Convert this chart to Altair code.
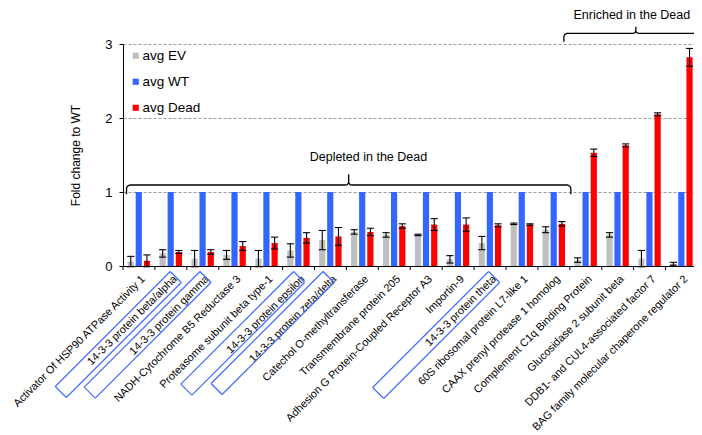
import altair as alt
import pandas as pd
import numpy as np

# ---------------- data ----------------
categories = [
    "Activator Of HSP90 ATPase Activity 1",
    "14-3-3 protein beta/alpha",
    "14-3-3 protein gamma",
    "NADH-Cytochrome B5 Reductase 3",
    "Proteasome subunit beta type-1",
    "14-3-3 protein epsilon",
    "14-3-3 protein zeta/delta",
    "Catechol O-methyltransferase",
    "Transmembrane protein 205",
    "Adhesion G Protein-Coupled Receptor A3",
    "Importin-9",
    "14-3-3 protein theta",
    "60S ribosomal protein L7-like 1",
    "CAAX prenyl protease 1 homolog",
    "Complement C1q Binding Protein",
    "Glucosidase 2 subunit beta",
    "DDB1- and CUL4-associated factor 7",
    "BAG family molecular chaperone regulator 2",
]
avg_ev = [0.06, 0.17, 0.10, 0.15, 0.10, 0.21, 0.35, 0.46, 0.42, 0.42,
          0.09, 0.31, 0.57, 0.49, 0.08, 0.42, 0.10, 0.03]
err_ev = [0.07, 0.05, 0.11, 0.06, 0.11, 0.09, 0.13, 0.03, 0.03, 0.01,
          0.05, 0.09, 0.01, 0.04, 0.03, 0.03, 0.11, 0.02]
avg_wt = [1.0] * 18
err_wt = [0.0] * 18
avg_dead = [0.07, 0.19, 0.19, 0.27, 0.31, 0.38, 0.40, 0.46, 0.54, 0.56,
            0.56, 0.55, 0.56, 0.57, 1.53, 1.63, 2.05, 2.82]
err_dead = [0.08, 0.02, 0.03, 0.06, 0.08, 0.07, 0.12, 0.05, 0.03, 0.08,
            0.09, 0.02, 0.01, 0.03, 0.05, 0.02, 0.02, 0.12]
series = ["avg EV", "avg WT", "avg Dead"]
colors = ["#BFBFBF", "#3366FF", "#FF0000"]
boxed = [1, 2, 5, 6, 11]           # 14-3-3 labels that are framed
y_ticks = [0, 1, 2, 3]
groups = [("Depleted in the Dead", 0, 14), ("Enriched in the Dead", 14, 18)]

# ---------------- layout ----------------
W, H = 571, 222
DMAX = 17.89
XU = W / DMAX          # px per category unit
YU = H / 3.0           # px per fold-change unit
FONT = "Liberation Sans"


def px(d):
    return d / XU


def py(d):
    return d / YU


offsets_px = [-8.2, -0.2, 8.0]
bar_w = 6.2
cap = 3.6

rows = []
for i, c in enumerate(categories):
    for s, vals, errs, off in zip(series, [avg_ev, avg_wt, avg_dead],
                                  [err_ev, err_wt, err_dead], offsets_px):
        cx = i + 0.5 + px(off)
        rows.append(dict(cat=c, series=s, x=cx - px(bar_w / 2), x2=cx + px(bar_w / 2),
                         xc=cx, cl=cx - px(cap), cr=cx + px(cap), v=vals[i], zero=0.0,
                         lo=vals[i] - errs[i], hi=vals[i] + errs[i], err=errs[i]))
df = pd.DataFrame(rows)
df_err = df[df["err"] > 0]

xs = alt.Scale(domain=[0, DMAX], nice=False, zero=False)
ys = alt.Scale(domain=[0, 3], nice=False)
xaxis = alt.Axis(ticks=False, labels=False, grid=False, domain=True,
                 domainColor="black", domainWidth=1)
yaxis = alt.Axis(values=y_ticks, format="d", grid=True, gridDash=[3, 2],
                 gridColor="#9A9A9A", gridWidth=1, tickSize=4, tickColor="black",
                 domainColor="black", domainWidth=1, labelFontSize=13,
                 labelColor="black", labelPadding=7, title="Fold change to WT",
                 titleFontSize=12, titleFontWeight="normal", titleColor="black",
                 titleX=-48, titleY=H / 2, titleAlign="center",
                 titleBaseline="middle", titleAngle=270)


def X(f):
    return alt.X(f, type="quantitative", scale=xs, axis=xaxis, title=None)


def Y(f):
    return alt.Y(f, type="quantitative", scale=ys, axis=yaxis, title="Fold change to WT")


bars = alt.Chart(df).mark_rect().encode(
    x=X("x"), x2="x2", y=Y("v"), y2="zero",
    color=alt.Color("series:N", scale=alt.Scale(domain=series, range=colors),
                    legend=alt.Legend(orient="none", legendX=6, legendY=5, title=None,
                                      symbolType="square", symbolSize=38,
                                      symbolStrokeWidth=0, labelFontSize=13.5,
                                      labelColor="black", rowPadding=11,
                                      labelOffset=0, padding=0)),
)

err_v = alt.Chart(df_err).mark_rule(color="black", strokeWidth=1.1).encode(
    x=X("xc"), y=Y("lo"), y2="hi")
err_top = alt.Chart(df_err).mark_rule(color="black", strokeWidth=1.1).encode(
    x=X("cl"), x2="cr", y=Y("hi"))
err_bot = alt.Chart(df_err).mark_rule(color="black", strokeWidth=1.1).encode(
    x=X("cl"), x2="cr", y=Y("lo"))

# category boundary ticks on the x axis
tick_df = pd.DataFrame({"x": list(range(len(categories))), "y": 0.0, "y2": -py(4)})
ticks = alt.Chart(tick_df).mark_rule(color="black", strokeWidth=1).encode(
    x=X("x"), y=Y("y"), y2="y2")

# rotated category labels
lab_df = pd.DataFrame({"x": [i + 0.5 + px(4.5) for i in range(len(categories))],
                       "y": -py(11.5), "t": categories})
labels = alt.Chart(lab_df).mark_text(angle=315, align="right", baseline="middle",
                                     fontSize=10.9, font=FONT, color="black").encode(
    x=X("x"), y=Y("y"), text="t:N")

# blue frames around the 14-3-3 labels
box_shift = {1: -0.6, 2: -2.8, 5: -5.0, 6: -7.4, 11: -1.4}
box_len = {1: 115, 2: 115.7, 5: 112.7, 6: 112, 11: 116}
edges = []
for i in boxed:
    tx = i + 0.5 + px(box_shift[i])
    ty = -py(5.5)
    T = (tx, ty)
    R = (tx + px(11), ty - py(11))
    L = (tx - px(box_len[i]), ty - py(box_len[i]))
    B = (L[0] + px(11), L[1] - py(11))
    for a, b in [(T, R), (R, B), (B, L), (L, T)]:
        edges.append(dict(x=a[0], y=a[1], x2=b[0], y2=b[1]))
boxes = alt.Chart(pd.DataFrame(edges)).mark_rule(color="#3F6BFF", strokeWidth=1.2).encode(
    x=X("x"), x2="x2", y=Y("y"), y2="y2")


# curly braces
def brace(name, x0, x1, xm, yl, hook, tip, r=4.0, rt=3.0, n=7):
    # x in category units, yl in data units; hook/tip/r in px
    pts = [(x0, yl - py(hook))]
    cx, cy = x0 + px(r), yl - py(r)
    for a in np.linspace(np.pi, 1.5 * np.pi, n):
        pts.append((cx + px(r * np.cos(a)), cy - py(r * np.sin(a))))
    cx, cy = xm - px(rt), yl + py(rt)
    for a in np.linspace(0.5 * np.pi, 0, n):
        pts.append((cx + px(rt * np.cos(a)), cy - py(rt * np.sin(a))))
    pts.append((xm, yl + py(tip)))
    cx, cy = xm + px(rt), yl + py(rt)
    for a in np.linspace(np.pi, 0.5 * np.pi, n):
        pts.append((cx + px(rt * np.cos(a)), cy - py(rt * np.sin(a))))
    cx, cy = x1 - px(r), yl - py(r)
    for a in np.linspace(1.5 * np.pi, 2 * np.pi, n):
        pts.append((cx + px(r * np.cos(a)), cy - py(r * np.sin(a))))
    pts.append((x1, yl - py(hook)))
    return [dict(b=name, o=k, x=p[0], y=p[1]) for k, p in enumerate(pts)]


bdata = []
g0, g1 = groups[0][1], groups[0][2]
bdata += brace("dep", g0 + px(3.5), g1 + px(1), (g0 + px(3.5) + g1 + px(1)) / 2,
               1 + py(7), 9.3, 10.7)
e0 = groups[1][1] - px(6)
e1 = e0 + 2 * px(72)
bdata += brace("enr", e0, e1, (e0 + e1) / 2, 3 + py(10.7), 8.4, 6.6)
braces = alt.Chart(pd.DataFrame(bdata)).mark_line(color="black", strokeWidth=1.3).encode(
    x=X("x"), y=Y("y"), detail="b:N", order="o:Q")

ann_df = pd.DataFrame({"t": [g[0] for g in groups],
                       "x": [groups[0][2] / 2 + px(22), (e0 + e1) / 2 - px(4)],
                       "y": [1 + py(35.5), 3 + py(29)]})
ann = alt.Chart(ann_df).mark_text(fontSize=12.5, font=FONT, color="black",
                                  align="center", baseline="middle").encode(
    x=X("x"), y=Y("y"), text="t:N")

chart = alt.layer(bars, err_v, err_top, err_bot, ticks, labels, boxes, braces, ann).properties(
    width=W, height=H,
    autosize=alt.AutoSizeParams(type="none"),
    padding={"left": 115, "top": 36, "right": 0, "bottom": 169},
).configure(font=FONT).configure_view(stroke=None)

chart.save("out.html", embed_options={"renderer": "svg", "actions": False})
